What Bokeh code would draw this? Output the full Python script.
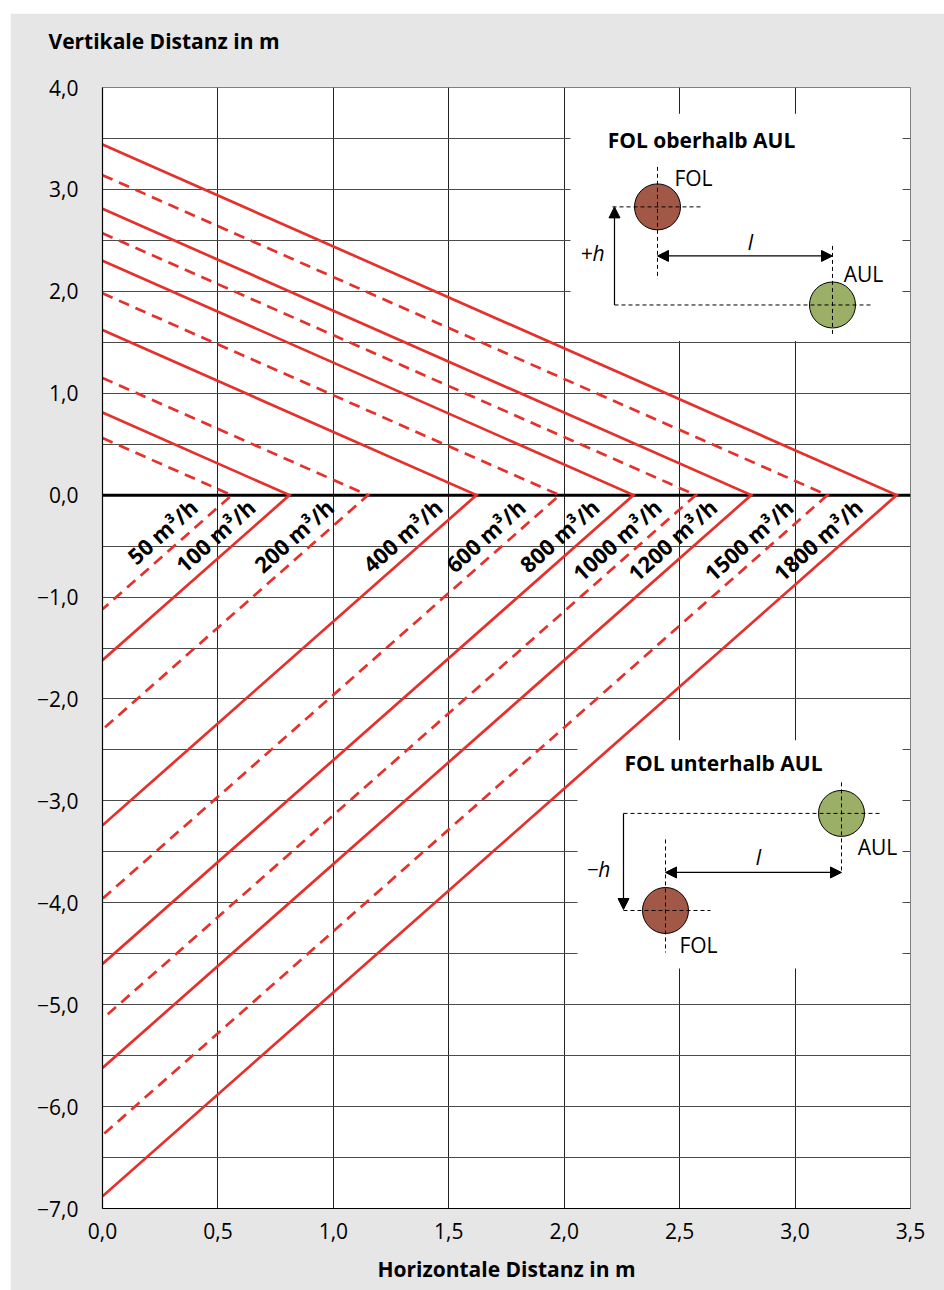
import numpy as np
from bokeh.plotting import figure
from bokeh.models import FixedTicker, Range1d, Arrow, NormalHead
from bokeh.core.properties import value
from bokeh.embed import file_html
from bokeh.resources import INLINE

# ---------------- data ----------------
flow_labels = ["50 m³/h", "100 m³/h", "200 m³/h", "400 m³/h", "600 m³/h",
               "800 m³/h", "1000 m³/h", "1200 m³/h", "1500 m³/h", "1800 m³/h"]
distances = [0.56, 0.81, 1.15, 1.62, 1.98, 2.30, 2.57, 2.81, 3.14, 3.44]
is_dashed = [True, False, True, False, True, False, True, False, True, False]

x_ticks = [0.0, 0.5, 1.0, 1.5, 2.0, 2.5, 3.0, 3.5]
x_tick_labels = ["0,0", "0,5", "1,0", "1,5", "2,0", "2,5", "3,0", "3,5"]
y_ticks = [-7.0, -6.0, -5.0, -4.0, -3.0, -2.0, -1.0, 0.0, 1.0, 2.0, 3.0, 4.0]
y_tick_labels = ["−7,0", "−6,0", "−5,0", "−4,0", "−3,0", "−2,0", "−1,0",
                 "0,0", "1,0", "2,0", "3,0", "4,0"]
y_grid = list(np.arange(-7.0, 4.01, 0.5))

# ---------------- style ----------------
FONT = "Open Sans"
RED = "#e5302b"
BG = "#e6e6e6"
BROWN = "#a25846"
GREEN = "#9caf66"

p = figure(width=934, height=1277, x_range=Range1d(0, 3.5), y_range=Range1d(-7, 4),
           output_backend="svg", toolbar_location=None,
           min_border_left=92, min_border_right=34, min_border_top=74, min_border_bottom=82,
           border_fill_color=BG, background_fill_color="white",
           outline_line_color="#808080", outline_line_width=1)
p.margin = (13, 0, 0, 10)

# title used as the (horizontal) y-axis caption; the blank second line lifts it up
p.title.text = "Vertikale Distanz in m\n "
p.title.align = "left"
p.title.offset = -54
p.title.standoff = 10
p.title.text_font = FONT
p.title.text_font_style = "bold"
p.title.text_font_size = "21px"
p.title.text_color = "black"

# axes
for ax in (p.xaxis[0], p.yaxis[0]):
    ax.major_tick_in = 0
    ax.major_tick_out = 0
    ax.minor_tick_line_color = None
    ax.axis_line_color = "black"
    ax.axis_line_width = 1.2
    ax.major_label_text_font = FONT
    ax.major_label_text_font_size = "21px"
    ax.major_label_text_color = "black"

p.xaxis.ticker = FixedTicker(ticks=x_ticks)
p.xaxis.major_label_overrides = {t: s for t, s in zip(x_ticks, x_tick_labels)}
p.xaxis.major_label_standoff = 14
p.xaxis.axis_label = "Horizontale Distanz in m"
p.xaxis.axis_label_text_font = FONT
p.xaxis.axis_label_text_font_style = "bold"
p.xaxis.axis_label_text_font_size = "21px"
p.xaxis.axis_label_text_color = "black"
p.xaxis.axis_label_standoff = 13

p.yaxis.ticker = FixedTicker(ticks=y_ticks)
p.yaxis.major_label_overrides = {t: s for t, s in zip(y_ticks, y_tick_labels)}
p.yaxis.major_label_standoff = 24

p.xgrid.ticker = FixedTicker(ticks=x_ticks)
p.ygrid.ticker = FixedTicker(ticks=y_grid)
p.xgrid.grid_line_color = "#222222"
p.ygrid.grid_line_color = "#4a4a4a"
p.xgrid.grid_line_width = 1
p.ygrid.grid_line_width = 1

# helper: page position (px) -> data coordinates, for the schematic insets
def X(px):
    return (px - 102) / 230.86

def Y(py):
    return (493 - py) / 101.82

# inset white boxes (cover the grid)
p.quad(left=[X(570), X(577)], right=[X(902), X(902)], top=[Y(112), Y(738)],
       bottom=[Y(339), Y(966)], fill_color="white", line_color=None)

# zero line
p.line([0, 3.5], [0, 0], line_color="black", line_width=3)

# red lines
for d, dsh in zip(distances, is_dashed):
    p.line([0, d, 0], [d, 0, -2 * d], line_color=RED, line_width=2.7,
           line_dash="11 7" if dsh else "solid", line_join="miter")

# flow labels (parallel to the lower branch, just left of it)
p.text(x=[d - 0.165 for d in distances], y=[-0.08] * len(distances), text=flow_labels,
       angle=0.725, text_align="right", text_baseline="alphabetic",
       text_font=value(FONT), text_font_style="bold", text_font_size="22px",
       text_color="black")

# ---------------- inset diagrams ----------------
def dashed_seg(x0, y0, x1, y1):
    p.segment(x0=[X(x0)], y0=[Y(y0)], x1=[X(x1)], y1=[Y(y1)], line_color="black",
              line_width=1, line_dash="4 3")

def arrow(x0, y0, x1, y1, both=False):
    p.add_layout(Arrow(x_start=X(x0), y_start=Y(y0), x_end=X(x1), y_end=Y(y1),
                       line_color="black", line_width=1.2,
                       end=NormalHead(size=11, fill_color="black", line_color="black"),
                       start=NormalHead(size=11, fill_color="black", line_color="black") if both else None))

def txt(px, py, s, style="normal", size="21px", align="center"):
    p.text(x=[X(px)], y=[Y(py)], text=[s], text_align=align, text_baseline="middle",
           text_font=value(FONT), text_font_style=style, text_font_size=size,
           text_color="black")

# upper inset: FOL oberhalb AUL
p.scatter(x=[X(657)], y=[Y(205)], size=46, fill_color=BROWN, line_color="black", line_width=1)
p.scatter(x=[X(832)], y=[Y(303)], size=46, fill_color=GREEN, line_color="black", line_width=1)
dashed_seg(657, 165, 657, 277)
dashed_seg(612, 205, 702, 205)
dashed_seg(614, 303, 873, 303)
dashed_seg(832, 244, 832, 333)
arrow(614, 303, 614, 205)
arrow(657, 254, 832, 254, both=True)
txt(701, 138, "FOL oberhalb AUL", style="bold")
txt(693, 176, "FOL")
txt(863, 272, "AUL")
txt(750, 240, "l", style="italic")
txt(592, 251, "+h", style="italic")

# lower inset: FOL unterhalb AUL
p.scatter(x=[X(841)], y=[Y(811)], size=46, fill_color=GREEN, line_color="black", line_width=1)
p.scatter(x=[X(665)], y=[Y(908)], size=46, fill_color=BROWN, line_color="black", line_width=1)
dashed_seg(623, 811, 882, 811)
dashed_seg(841, 780, 841, 870)
dashed_seg(623, 908, 710, 908)
dashed_seg(665, 837, 665, 950)
arrow(623, 811, 623, 907)
arrow(665, 870, 841, 870, both=True)
txt(723, 761, "FOL unterhalb AUL", style="bold")
txt(877, 845, "AUL")
txt(698, 942, "FOL")
txt(758, 855, "l", style="italic")
txt(598, 867, "−h", style="italic")

open("out.html", "w").write(file_html(p, INLINE))
